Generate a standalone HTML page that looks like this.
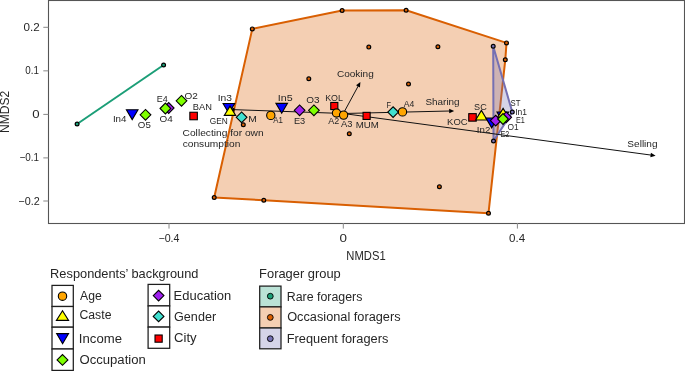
<!DOCTYPE html>
<html><head><meta charset="utf-8"><style>
html,body{margin:0;padding:0;background:#fff;overflow:hidden;}
svg{display:block;will-change:transform;font-family:"Liberation Sans", sans-serif;}
</style></head><body>
<svg width="685" height="371" viewBox="0 0 685 371">
<rect x="48.5" y="0.5" width="636" height="223" fill="none" stroke="#555" stroke-width="1.1"/>
<line x1="43.3" x2="48.5" y1="27.3" y2="27.3" stroke="#888" stroke-width="1"/>
<line x1="43.3" x2="48.5" y1="70.85" y2="70.85" stroke="#888" stroke-width="1"/>
<line x1="43.3" x2="48.5" y1="114.4" y2="114.4" stroke="#888" stroke-width="1"/>
<line x1="43.3" x2="48.5" y1="157.9" y2="157.9" stroke="#888" stroke-width="1"/>
<line x1="43.3" x2="48.5" y1="201.0" y2="201.0" stroke="#888" stroke-width="1"/>
<line x1="169.0" x2="169.0" y1="223" y2="228.6" stroke="#888" stroke-width="1"/>
<line x1="343.3" x2="343.3" y1="223" y2="228.6" stroke="#888" stroke-width="1"/>
<line x1="517.4" x2="517.4" y1="223" y2="228.6" stroke="#888" stroke-width="1"/>
<text x="23.54" y="31.30" font-size="10.7" textLength="16.15" lengthAdjust="spacingAndGlyphs" fill="#262626">0.2</text>
<text x="25.31" y="74.40" font-size="10.7" textLength="13.66" lengthAdjust="spacingAndGlyphs" fill="#262626">0.1</text>
<text x="32.37" y="117.90" font-size="10.7" textLength="7.34" lengthAdjust="spacingAndGlyphs" fill="#262626">0</text>
<text x="19.51" y="161.30" font-size="10.7" textLength="19.48" lengthAdjust="spacingAndGlyphs" fill="#262626">−0.1</text>
<text x="18.36" y="204.80" font-size="10.7" textLength="21.30" lengthAdjust="spacingAndGlyphs" fill="#262626">−0.2</text>
<text x="158.47" y="241.70" font-size="10.7" textLength="21.04" lengthAdjust="spacingAndGlyphs" fill="#262626">−0.4</text>
<text x="339.46" y="241.80" font-size="10.7" textLength="7.45" lengthAdjust="spacingAndGlyphs" fill="#262626">0</text>
<text x="509.14" y="241.70" font-size="10.7" textLength="16.08" lengthAdjust="spacingAndGlyphs" fill="#262626">0.4</text>
<text x="346.37" y="259.90" font-size="12.2" textLength="39.26" lengthAdjust="spacingAndGlyphs" fill="#262626">NMDS1</text>
<text transform="translate(9.3,132.89) rotate(-90)" font-size="12.2" textLength="42.20" lengthAdjust="spacingAndGlyphs" fill="#262626">NMDS2</text>
<line x1="77.1" y1="124" x2="163.6" y2="65" stroke="#1B9E77" stroke-width="2"/>
<polygon points="252.3,28.9 342.1,10.5 406.1,10.3 506.5,42.9 505.3,59.7 488.5,213.2 263.8,200.3 214.2,197.5" fill="#D95F02" fill-opacity="0.3" stroke="#D95F02" stroke-width="2" stroke-linejoin="round"/>
<polygon points="493.2,46.2 512.3,112.1 493.5,141.0" fill="#7570B3" fill-opacity="0.3" stroke="#7570B3" stroke-width="2" stroke-linejoin="round"/>
<circle cx="77.1" cy="124" r="1.9" fill="#1B9E77" stroke="#000" stroke-width="1.2"/>
<circle cx="163.6" cy="65" r="1.9" fill="#1B9E77" stroke="#000" stroke-width="1.2"/>
<circle cx="252.3" cy="28.9" r="1.9" fill="#D95F02" stroke="#000" stroke-width="1.2"/>
<circle cx="342.1" cy="10.5" r="1.9" fill="#D95F02" stroke="#000" stroke-width="1.2"/>
<circle cx="406.1" cy="10.3" r="1.9" fill="#D95F02" stroke="#000" stroke-width="1.2"/>
<circle cx="506.5" cy="42.9" r="1.9" fill="#D95F02" stroke="#000" stroke-width="1.2"/>
<circle cx="505.3" cy="59.7" r="1.9" fill="#D95F02" stroke="#000" stroke-width="1.2"/>
<circle cx="488.5" cy="213.2" r="1.9" fill="#D95F02" stroke="#000" stroke-width="1.2"/>
<circle cx="263.8" cy="200.3" r="1.9" fill="#D95F02" stroke="#000" stroke-width="1.2"/>
<circle cx="214.2" cy="197.5" r="1.9" fill="#D95F02" stroke="#000" stroke-width="1.2"/>
<circle cx="368.8" cy="47.1" r="1.9" fill="#D95F02" stroke="#000" stroke-width="1.2"/>
<circle cx="437.9" cy="46.7" r="1.9" fill="#D95F02" stroke="#000" stroke-width="1.2"/>
<circle cx="308.8" cy="78.8" r="1.9" fill="#D95F02" stroke="#000" stroke-width="1.2"/>
<circle cx="408.5" cy="84.0" r="1.9" fill="#D95F02" stroke="#000" stroke-width="1.2"/>
<circle cx="349.3" cy="133.8" r="1.9" fill="#D95F02" stroke="#000" stroke-width="1.2"/>
<circle cx="439.4" cy="186.8" r="1.9" fill="#D95F02" stroke="#000" stroke-width="1.2"/>
<circle cx="243.3" cy="124.8" r="1.9" fill="#D95F02" stroke="#000" stroke-width="1.2"/>
<line x1="343.3" y1="113.5" x2="231.50" y2="109.57" stroke="#111" stroke-width="1.0"/>
<polygon points="229.50,109.50 234.57,107.48 234.42,111.87" fill="#000"/>
<line x1="343.3" y1="113.5" x2="359.45" y2="83.76" stroke="#111" stroke-width="1.0"/>
<polygon points="360.40,82.00 359.95,87.44 356.08,85.34" fill="#000"/>
<line x1="343.3" y1="113.5" x2="452.20" y2="110.95" stroke="#111" stroke-width="1.0"/>
<polygon points="454.20,110.90 449.25,113.22 449.15,108.82" fill="#000"/>
<line x1="343.3" y1="113.5" x2="653.62" y2="155.43" stroke="#111" stroke-width="1.0"/>
<polygon points="655.60,155.70 650.35,157.21 650.94,152.85" fill="#000"/>
<polygon points="126.40,109.75 138.00,109.75 132.2,119.65" fill="#0000FF" stroke="#000" stroke-width="1.1"/>
<polygon points="140.15,114.8 145.5,109.45 150.85,114.8 145.5,120.15" fill="#7FFF00" stroke="#000" stroke-width="1.1"/>
<polygon points="163.35,108.0 168.7,102.65 174.05,108.0 168.7,113.35" fill="#A020F0" stroke="#000" stroke-width="1.1"/>
<polygon points="160.05,108.5 165.4,103.15 170.75,108.5 165.4,113.85" fill="#7FFF00" stroke="#000" stroke-width="1.1"/>
<polygon points="176.15,100.8 181.5,95.45 186.85,100.8 181.5,106.15" fill="#7FFF00" stroke="#000" stroke-width="1.1"/>
<rect x="189.85" y="112.25" width="7.5" height="7.5" fill="#FF0000" stroke="#000" stroke-width="1.1"/>
<polygon points="223.10,103.55 234.70,103.55 228.9,113.45" fill="#0000FF" stroke="#000" stroke-width="1.1"/>
<polygon points="224.30,115.4 235.70,115.4 230.0,106.10" fill="#FFFF00" stroke="#000" stroke-width="1.1"/>
<polygon points="236.25,117.3 241.6,111.95 246.95,117.3 241.6,122.65" fill="#40E0D0" stroke="#000" stroke-width="1.1"/>
<circle cx="270.8" cy="115.4" r="4.15" fill="#FFA500" stroke="#000" stroke-width="1.1"/>
<polygon points="275.90,103.35 287.50,103.35 281.7,113.25" fill="#0000FF" stroke="#000" stroke-width="1.1"/>
<polygon points="294.25,110.3 299.6,104.95 304.95,110.3 299.6,115.65" fill="#A020F0" stroke="#000" stroke-width="1.1"/>
<polygon points="308.55,110.3 313.9,104.95 319.25,110.3 313.9,115.65" fill="#7FFF00" stroke="#000" stroke-width="1.1"/>
<rect x="330.75" y="102.45" width="7.1" height="7.1" fill="#FF0000" stroke="#000" stroke-width="1.1"/>
<circle cx="336.5" cy="113.0" r="4.15" fill="#FFA500" stroke="#000" stroke-width="1.1"/>
<circle cx="343.6" cy="115.1" r="4.15" fill="#FFA500" stroke="#000" stroke-width="1.1"/>
<rect x="363.05" y="112.35" width="7.1" height="7.1" fill="#FF0000" stroke="#000" stroke-width="1.1"/>
<polygon points="387.75,112.1 393.1,106.75 398.45,112.1 393.1,117.45" fill="#40E0D0" stroke="#000" stroke-width="1.1"/>
<circle cx="402.5" cy="111.9" r="4.15" fill="#FFA500" stroke="#000" stroke-width="1.1"/>
<rect x="468.75" y="113.65" width="7.5" height="7.5" fill="#FF0000" stroke="#000" stroke-width="1.1"/>
<polygon points="475.70,120.0 487.10,120.0 481.4,110.40" fill="#FFFF00" stroke="#000" stroke-width="1.1"/>
<polygon points="497.00,112.05 508.60,112.05 502.8,121.95" fill="#0000FF" stroke="#000" stroke-width="1.1"/>
<polygon points="497.40,117.7 508.80,117.7 503.1,108.40" fill="#FFFF00" stroke="#000" stroke-width="1.1"/>
<polygon points="500.85,117.3 506.2,111.95 511.55,117.3 506.2,122.65" fill="#A020F0" stroke="#000" stroke-width="1.1"/>
<polygon points="485.90,117.95 497.50,117.95 491.7,127.85" fill="#0000FF" stroke="#000" stroke-width="1.1"/>
<polygon points="490.35,120.6 495.7,115.25 501.05,120.6 495.7,125.95" fill="#A020F0" stroke="#000" stroke-width="1.1"/>
<polygon points="497.65,119.0 503.0,113.65 508.35,119.0 503.0,124.35" fill="#7FFF00" stroke="#000" stroke-width="1.1"/>
<circle cx="512.3" cy="112.1" r="1.9" fill="#7570B3" stroke="#000" stroke-width="1.2"/>
<circle cx="493.2" cy="46.2" r="1.9" fill="#7570B3" stroke="#000" stroke-width="1.2"/>
<circle cx="493.5" cy="141.0" r="1.9" fill="#7570B3" stroke="#000" stroke-width="1.2"/>
<text x="112.90" y="121.80" font-size="9.8" textLength="13.57" lengthAdjust="spacingAndGlyphs" fill="#262626">In4</text>
<text x="137.84" y="128.00" font-size="9.8" textLength="12.97" lengthAdjust="spacingAndGlyphs" fill="#262626">O5</text>
<text x="156.76" y="101.80" font-size="9.8" textLength="10.99" lengthAdjust="spacingAndGlyphs" fill="#262626">E4</text>
<text x="159.53" y="121.80" font-size="9.8" textLength="13.26" lengthAdjust="spacingAndGlyphs" fill="#262626">O4</text>
<text x="184.52" y="98.70" font-size="9.8" textLength="13.39" lengthAdjust="spacingAndGlyphs" fill="#262626">O2</text>
<text x="192.83" y="109.50" font-size="9.8" textLength="19.12" lengthAdjust="spacingAndGlyphs" fill="#262626">BAN</text>
<text x="217.75" y="100.60" font-size="9.8" textLength="14.29" lengthAdjust="spacingAndGlyphs" fill="#262626">In3</text>
<text x="209.68" y="123.50" font-size="9.8" textLength="18.00" lengthAdjust="spacingAndGlyphs" fill="#262626">GEN</text>
<text x="248.25" y="121.80" font-size="9.8" textLength="8.61" lengthAdjust="spacingAndGlyphs" fill="#262626">M</text>
<text x="273.28" y="123.30" font-size="9.8" textLength="9.60" lengthAdjust="spacingAndGlyphs" fill="#262626">A1</text>
<text x="277.71" y="100.70" font-size="9.8" textLength="14.92" lengthAdjust="spacingAndGlyphs" fill="#262626">In5</text>
<text x="293.94" y="124.40" font-size="9.8" textLength="11.26" lengthAdjust="spacingAndGlyphs" fill="#262626">E3</text>
<text x="306.33" y="103.10" font-size="9.8" textLength="13.31" lengthAdjust="spacingAndGlyphs" fill="#262626">O3</text>
<text x="325.17" y="100.70" font-size="9.8" textLength="17.73" lengthAdjust="spacingAndGlyphs" fill="#262626">KOL</text>
<text x="328.18" y="124.20" font-size="9.8" textLength="10.98" lengthAdjust="spacingAndGlyphs" fill="#262626">A2</text>
<text x="340.98" y="127.30" font-size="9.8" textLength="11.43" lengthAdjust="spacingAndGlyphs" fill="#262626">A3</text>
<text x="355.70" y="128.10" font-size="9.8" textLength="23.10" lengthAdjust="spacingAndGlyphs" fill="#262626">MUM</text>
<text x="386.39" y="107.90" font-size="9.8" textLength="4.51" lengthAdjust="spacingAndGlyphs" fill="#262626">F</text>
<text x="403.78" y="106.70" font-size="9.8" textLength="10.56" lengthAdjust="spacingAndGlyphs" fill="#262626">A4</text>
<text x="447.12" y="124.60" font-size="9.8" textLength="20.45" lengthAdjust="spacingAndGlyphs" fill="#262626">KOC</text>
<text x="474.09" y="109.80" font-size="9.8" textLength="12.67" lengthAdjust="spacingAndGlyphs" fill="#262626">SC</text>
<text x="476.80" y="132.80" font-size="9.8" textLength="13.48" lengthAdjust="spacingAndGlyphs" fill="#262626">In2</text>
<text x="510.55" y="106.00" font-size="9.8" textLength="9.93" lengthAdjust="spacingAndGlyphs" fill="#262626">ST</text>
<text x="515.22" y="114.50" font-size="9.8" textLength="11.79" lengthAdjust="spacingAndGlyphs" fill="#262626">In1</text>
<text x="515.90" y="122.60" font-size="9.8" textLength="8.84" lengthAdjust="spacingAndGlyphs" fill="#262626">E1</text>
<text x="507.40" y="130.00" font-size="9.8" textLength="11.21" lengthAdjust="spacingAndGlyphs" fill="#262626">O1</text>
<text x="500.40" y="137.10" font-size="9.8" textLength="8.87" lengthAdjust="spacingAndGlyphs" fill="#262626">E2</text>
<text x="182.59" y="136.10" font-size="9.8" textLength="81.08" lengthAdjust="spacingAndGlyphs" fill="#262626">Collecting for own</text>
<text x="182.67" y="147.10" font-size="9.8" textLength="57.80" lengthAdjust="spacingAndGlyphs" fill="#262626">consumption</text>
<text x="336.90" y="77.20" font-size="9.8" textLength="36.85" lengthAdjust="spacingAndGlyphs" fill="#262626">Cooking</text>
<text x="425.45" y="104.50" font-size="9.8" textLength="34.18" lengthAdjust="spacingAndGlyphs" fill="#262626">Sharing</text>
<text x="627.35" y="147.00" font-size="9.8" textLength="30.20" lengthAdjust="spacingAndGlyphs" fill="#262626">Selling</text>
<text x="50.14" y="277.70" font-size="12.4" textLength="148.29" lengthAdjust="spacingAndGlyphs" fill="#262626">Respondents’ background</text>
<rect x="52" y="285.4" width="21.3" height="21.1" fill="#fff" stroke="#1e1e1e" stroke-width="1.25"/>
<rect x="52" y="306.5" width="21.3" height="20.7" fill="#fff" stroke="#1e1e1e" stroke-width="1.25"/>
<rect x="52" y="327.2" width="21.3" height="21.8" fill="#fff" stroke="#1e1e1e" stroke-width="1.25"/>
<rect x="52" y="349.0" width="21.3" height="21.4" fill="#fff" stroke="#1e1e1e" stroke-width="1.25"/>
<circle cx="62.5" cy="296.2" r="4.2" fill="#FFA500" stroke="#000" stroke-width="1.1"/>
<polygon points="56.40,320.4 68.60,320.4 62.5,310.70" fill="#FFFF00" stroke="#000" stroke-width="1.1"/>
<polygon points="56.65,333.65 68.55,333.65 62.6,343.75" fill="#0000FF" stroke="#000" stroke-width="1.1"/>
<polygon points="57.10,359.9 62.5,354.50 67.90,359.9 62.5,365.30" fill="#7FFF00" stroke="#000" stroke-width="1.1"/>
<text x="80.07" y="299.90" font-size="12.0" textLength="21.67" lengthAdjust="spacingAndGlyphs" fill="#262626">Age</text>
<text x="79.49" y="319.10" font-size="12.0" textLength="31.96" lengthAdjust="spacingAndGlyphs" fill="#262626">Caste</text>
<text x="78.88" y="342.80" font-size="12.0" textLength="43.10" lengthAdjust="spacingAndGlyphs" fill="#262626">Income</text>
<text x="79.48" y="363.60" font-size="12.0" textLength="66.29" lengthAdjust="spacingAndGlyphs" fill="#262626">Occupation</text>
<rect x="148.1" y="284.4" width="21.6" height="21.5" fill="#fff" stroke="#1e1e1e" stroke-width="1.25"/>
<rect x="148.1" y="305.9" width="21.6" height="21.2" fill="#fff" stroke="#1e1e1e" stroke-width="1.25"/>
<rect x="148.1" y="327.1" width="21.6" height="21.2" fill="#fff" stroke="#1e1e1e" stroke-width="1.25"/>
<polygon points="153.25,295.6 158.6,290.25 163.95,295.6 158.6,300.95" fill="#A020F0" stroke="#000" stroke-width="1.1"/>
<polygon points="153.25,316.4 158.6,311.05 163.95,316.4 158.6,321.75" fill="#40E0D0" stroke="#000" stroke-width="1.1"/>
<rect x="155.00" y="335.00" width="7.2" height="7.2" fill="#FF0000" stroke="#000" stroke-width="1.1"/>
<text x="173.63" y="299.50" font-size="12.0" textLength="57.62" lengthAdjust="spacingAndGlyphs" fill="#262626">Education</text>
<text x="174.07" y="320.50" font-size="12.0" textLength="42.03" lengthAdjust="spacingAndGlyphs" fill="#262626">Gender</text>
<text x="174.04" y="342.40" font-size="12.0" textLength="22.58" lengthAdjust="spacingAndGlyphs" fill="#262626">City</text>
<text x="259.14" y="277.80" font-size="12.4" textLength="81.60" lengthAdjust="spacingAndGlyphs" fill="#262626">Forager group</text>
<rect x="259.7" y="286.1" width="21.3" height="20.8" fill="#fff" stroke="none"/>
<rect x="259.7" y="286.1" width="21.3" height="20.8" fill="#1B9E77" fill-opacity="0.3" stroke="#1e1e1e" stroke-width="1.25"/>
<rect x="259.7" y="306.9" width="21.3" height="21.1" fill="#fff" stroke="none"/>
<rect x="259.7" y="306.9" width="21.3" height="21.1" fill="#D95F02" fill-opacity="0.3" stroke="#1e1e1e" stroke-width="1.25"/>
<rect x="259.7" y="328.0" width="21.3" height="20.8" fill="#fff" stroke="none"/>
<rect x="259.7" y="328.0" width="21.3" height="20.8" fill="#7570B3" fill-opacity="0.3" stroke="#1e1e1e" stroke-width="1.25"/>
<circle cx="270.3" cy="296.2" r="2.9" fill="#1B9E77" stroke="#000" stroke-width="0.9"/>
<circle cx="270.3" cy="317.4" r="2.9" fill="#D95F02" stroke="#000" stroke-width="0.9"/>
<circle cx="270.3" cy="338.7" r="2.9" fill="#7570B3" stroke="#000" stroke-width="0.9"/>
<text x="286.78" y="300.50" font-size="12.0" textLength="75.64" lengthAdjust="spacingAndGlyphs" fill="#262626">Rare foragers</text>
<text x="287.19" y="321.10" font-size="12.0" textLength="113.36" lengthAdjust="spacingAndGlyphs" fill="#262626">Occasional foragers</text>
<text x="286.75" y="342.50" font-size="12.0" textLength="101.59" lengthAdjust="spacingAndGlyphs" fill="#262626">Frequent foragers</text>
</svg>
</body></html>
